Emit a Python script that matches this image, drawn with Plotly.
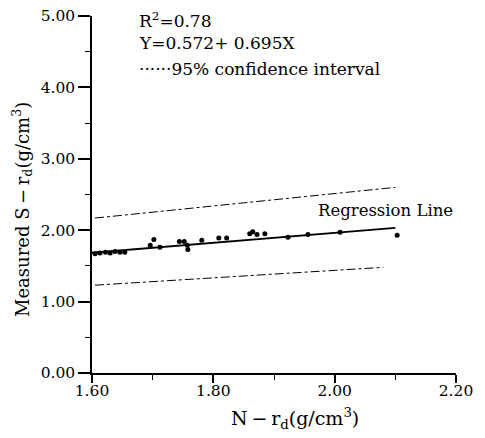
import plotly.graph_objects as go

# Measured data points (N-rd, S-rd)
x_pts = [1.605, 1.613, 1.622, 1.630, 1.638, 1.646, 1.654, 1.696, 1.702, 1.712,
         1.744, 1.752, 1.757, 1.758, 1.781, 1.809, 1.822, 1.860, 1.865, 1.872,
         1.885, 1.923, 1.956, 2.009, 2.103]
y_pts = [1.67, 1.68, 1.69, 1.68, 1.70, 1.69, 1.69, 1.79, 1.87, 1.76,
         1.84, 1.84, 1.79, 1.73, 1.86, 1.89, 1.89, 1.95, 1.98, 1.94,
         1.95, 1.90, 1.94, 1.97, 1.93]

# Regression line: Y = 0.572 + 0.695X
reg_x = [1.60, 2.10]
reg_y = [0.572 + 0.695 * 1.60, 0.572 + 0.695 * 2.10]

# 95% confidence interval lines
ci_upper_x = [1.605, 2.10]
ci_upper_y = [2.17, 2.60]
ci_lower_x = [1.605, 2.08]
ci_lower_y = [1.23, 1.48]

x_ticks = [1.60, 1.80, 2.00, 2.20]
y_ticks = [0.00, 1.00, 2.00, 3.00, 4.00, 5.00]

FONT = "DejaVu Serif"
OFF = 8  # page body margin offset

fig = go.Figure()
fig.add_trace(go.Scatter(x=ci_upper_x, y=ci_upper_y, mode="lines",
                         line=dict(color="black", width=1, dash="dashdot"), showlegend=False))
fig.add_trace(go.Scatter(x=ci_lower_x, y=ci_lower_y, mode="lines",
                         line=dict(color="black", width=1, dash="dashdot"), showlegend=False))
fig.add_trace(go.Scatter(x=reg_x, y=reg_y, mode="lines",
                         line=dict(color="black", width=1.8), showlegend=False))
fig.add_trace(go.Scatter(x=x_pts, y=y_pts, mode="markers",
                         marker=dict(color="black", size=5), showlegend=False))

# screen pixel -> data helpers for text placement
TOP = 16
px_x0, px_x1, dx0, dx1 = 92, 456, 1.6, 2.2
px_y0, px_y1, dy0, dy1 = 373, TOP, 0.0, 5.0
def dx(p):
    return dx0 + (p - px_x0) * (dx1 - dx0) / (px_x1 - px_x0)
def dy(p):
    return dy0 + (px_y0 - p) * (dy1 - dy0) / (px_y0 - px_y1)

TS = "\u2009"
annotations = [
    dict(x=dx(137), y=dy(20), text="R<sup>2</sup>=0.78", showarrow=False,
         xanchor="left", yanchor="middle", font=dict(size=17)),
    dict(x=dx(137), y=dy(43), text="Y=0.572+ 0.695X", showarrow=False,
         xanchor="left", yanchor="middle", font=dict(size=17)),
    dict(x=dx(137), y=dy(69), text="······95% confidence interval", showarrow=False,
         xanchor="left", yanchor="middle", font=dict(size=17)),
    dict(x=dx(316), y=dy(210), text="Regression Line", showarrow=False,
         xanchor="left", yanchor="middle", font=dict(size=16.5)),
    dict(x=0.0, y=dy(210), xref="paper", text=f"Measured S{TS}−{TS}r<sub>d</sub>(g/cm<sup>3</sup>)",
         showarrow=False, textangle=-90, xanchor="center", yanchor="middle",
         xshift=-70, font=dict(size=18)),
    dict(x=dx(295), y=0, yref="paper", text=f"N{TS}−{TS}r<sub>d</sub>(g/cm<sup>3</sup>)",
         showarrow=False, xanchor="center", yanchor="middle", yshift=-45, font=dict(size=19)),
]

fig.update_layout(
    width=485 - OFF, height=438 - OFF,
    margin=dict(l=92 - OFF, r=29, t=TOP - OFF, b=65, autoexpand=False),
    paper_bgcolor="white", plot_bgcolor="white",
    font=dict(family=FONT, size=15.5, color="black"),
    xaxis=dict(range=[1.6, 2.2], tickvals=x_ticks,
               ticktext=[f"{v:.2f}" for v in x_ticks], automargin=False,
               ticklabeloverflow="allow", ticklabelstandoff=-5,
               showgrid=False, zeroline=False, showline=True, linecolor="black", linewidth=1.5,
               ticks="outside", ticklen=8, tickwidth=1.5, tickcolor="black",
               minor=dict(dtick=0.1, tick0=1.6, ticks="outside", ticklen=5, tickwidth=1.2,
                          tickcolor="black", showgrid=False)),
    yaxis=dict(range=[0, 5], tickvals=y_ticks,
               ticktext=[f"{v:.2f}" for v in y_ticks], automargin=False,
               ticklabeloverflow="allow",
               showgrid=False, zeroline=False, showline=True, linecolor="black", linewidth=1.5,
               ticks="outside", ticklen=12, tickwidth=1.5, tickcolor="black",
               minor=dict(dtick=0.5, tick0=0, ticks="outside", ticklen=5, tickwidth=1.2,
                          tickcolor="black", showgrid=False)),
    annotations=annotations,
)

fig.write_html("out.html")
